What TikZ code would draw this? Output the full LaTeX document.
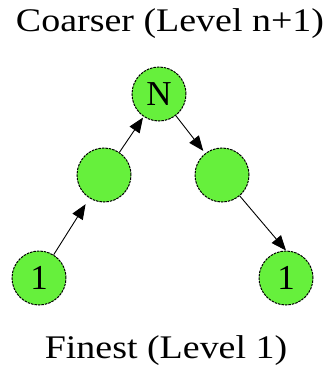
\documentclass[tikz,border=0pt]{standalone}
\usepackage{fontspec}
\setmainfont{Liberation Serif}
\usetikzlibrary{arrows.meta}
\definecolor{levelgreen}{RGB}{102,240,60}
\tikzset{
	level/.style={circle, draw=black, line width=1pt, dash pattern=on 2.5pt off 1pt,
		fill=levelgreen, minimum size=54pt, inner sep=0pt,
		font=\fontsize{35}{40}\selectfont},
	title/.style={anchor=base, xscale=1.15, font=\fontsize{33}{40}\selectfont},
	link/.style={-{Triangle[length=15pt, width=12pt]}, line width=0.9pt, black}
}

\begin{document}
\begin{tikzpicture}[x=1pt, y=-1pt]
			%%%%% START %%%%%
			\useasboundingbox (0, 0) rectangle (334, 372);
			
			\node[title] (coarse) at (170, 31) {Coarser (Level n+1)};
			\node[title] (fine) at (166, 358) {Finest (Level 1)};
			
			\node[level] (top) at (159, 94) {N};
			\node[level] (midl) at (104, 175) {};
			\node[level] (midr) at (222, 175) {};
			\node[level] (botl) at (39, 278) {1};
			\node[level] (botr) at (286, 278) {1};
			
			\draw[link, shorten >=7pt] (botl) -- (midl);
			\draw[link, shorten >=1pt] (midl) -- (top);
			\draw[link, shorten >=3pt] (top) -- (midr);
			\draw[link] (midr) -- (botr.north);
			
			%%%%% END %%%%%
\end{tikzpicture}
\end{document}
